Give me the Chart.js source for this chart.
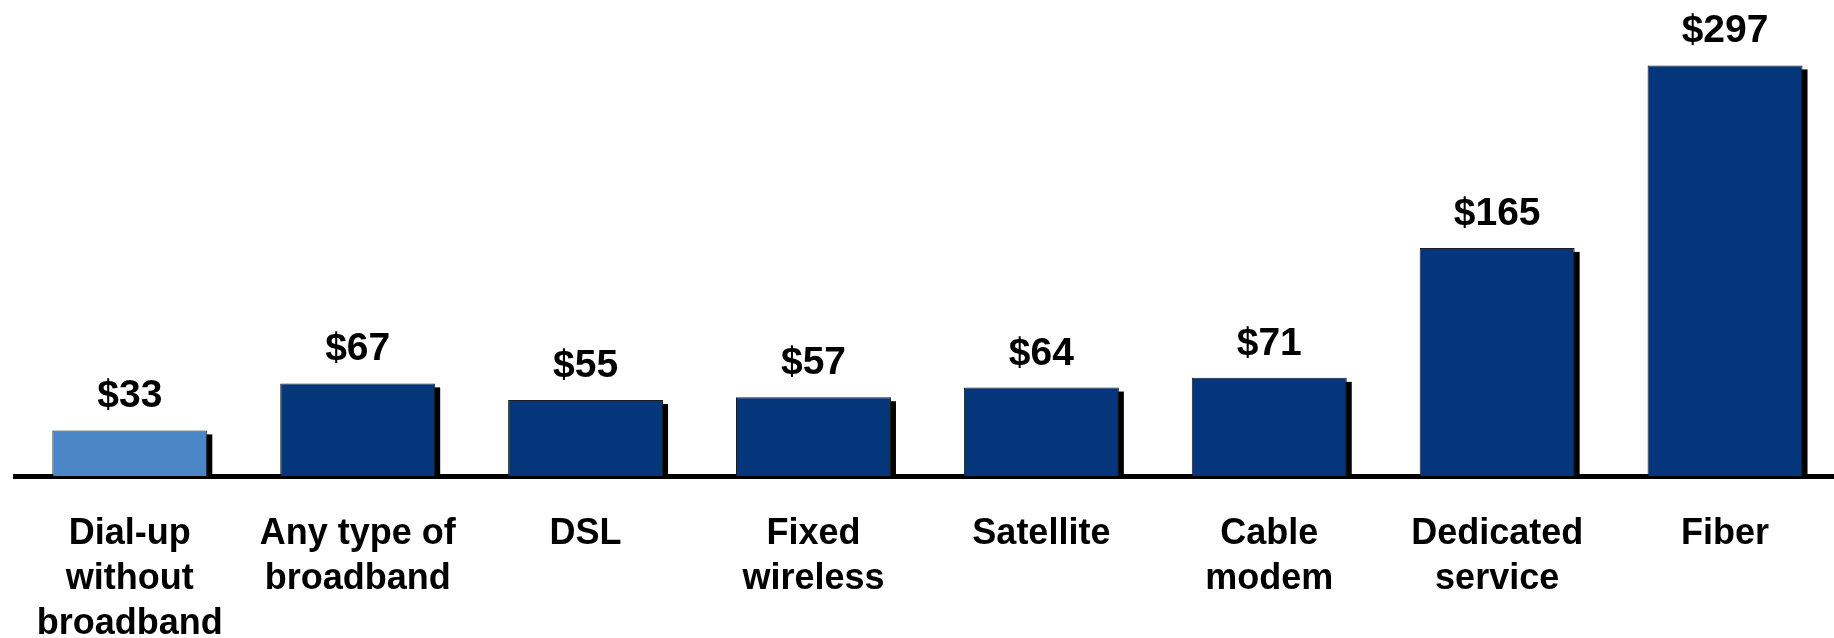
<!DOCTYPE html>
<html>
<head>
<meta charset="utf-8">
<script src="https://cdn.jsdelivr.net/npm/chart.js@4.4.1/dist/chart.umd.min.js"></script>
<style>
  html, body { margin: 0; padding: 0; background: #ffffff; overflow: hidden; }
  #wrap { position: relative; width: 1839px; height: 638px; }
</style>
</head>
<body>
<div id="wrap"><canvas id="chart"></canvas></div>
<script>
// Average monthly spend by type of connection
const categories = [
  ["Dial-up", "without", "broadband"],
  ["Any type of", "broadband"],
  ["DSL"],
  ["Fixed", "wireless"],
  ["Satellite"],
  ["Cable", "modem"],
  ["Dedicated", "service"],
  ["Fiber"]
];
const spend = [33, 67, 55, 57, 64, 71, 165, 297];
const barColors = ["#4a86c6", "#05357a", "#05357a", "#05357a", "#05357a", "#05357a", "#05357a", "#05357a"];

const FONT = '"Liberation Sans", Arial, Helvetica, sans-serif';

// Hard black drop shadow behind each bar, offset down and to the right
const barShadow = {
  id: 'barShadow',
  beforeDatasetsDraw(chart) {
    const ctx = chart.ctx;
    const meta = chart.getDatasetMeta(0);
    const area = chart.chartArea;
    ctx.save();
    ctx.beginPath();
    ctx.rect(area.left, area.top, area.right - area.left, area.bottom - area.top);
    ctx.clip();
    ctx.fillStyle = '#000000';
    meta.data.forEach((bar) => {
      const left = bar.x - bar.width / 2;
      ctx.fillRect(left + 5, bar.y + 4, bar.width, bar.base - bar.y);
    });
    ctx.restore();
  }
};

// Dollar amounts printed above the bars
const valueLabels = {
  id: 'valueLabels',
  afterDatasetsDraw(chart) {
    const ctx = chart.ctx;
    const meta = chart.getDatasetMeta(0);
    ctx.save();
    ctx.font = 'bold 39px ' + FONT;
    ctx.fillStyle = '#000000';
    ctx.textAlign = 'center';
    ctx.textBaseline = 'alphabetic';
    meta.data.forEach((bar, i) => {
      ctx.fillText('$' + spend[i], bar.x, bar.y - 23);
    });
    ctx.restore();
  }
};

new Chart(document.getElementById('chart'), {
  type: 'bar',
  data: {
    labels: categories,
    datasets: [{
      data: spend,
      backgroundColor: barColors,
      borderColor: '#1c1c1c',
      borderWidth: 1,
      barPercentage: 0.68,
      categoryPercentage: 1.0
    }]
  },
  options: {
    responsive: true,
    maintainAspectRatio: false,
    animation: false,
    events: [],
    layout: { padding: { top: 6, left: 13, right: 0, bottom: 0 } },
    plugins: {
      legend: { display: false },
      tooltip: { enabled: false }
    },
    scales: {
      x: {
        z: 1,
        grid: { display: false, drawTicks: false },
        border: { display: true, color: '#000000', width: 5 },
        ticks: {
          color: '#000000',
          padding: 36,
          maxRotation: 0,
          autoSkip: false,
          font: { family: FONT, size: 36, weight: 'bold', lineHeight: 1.25 }
        },
        afterFit(scale) { scale.height = 162; }
      },
      y: {
        display: false,
        min: 0,
        max: 340
      }
    }
  },
  plugins: [barShadow, valueLabels]
});
</script>
</body>
</html>
